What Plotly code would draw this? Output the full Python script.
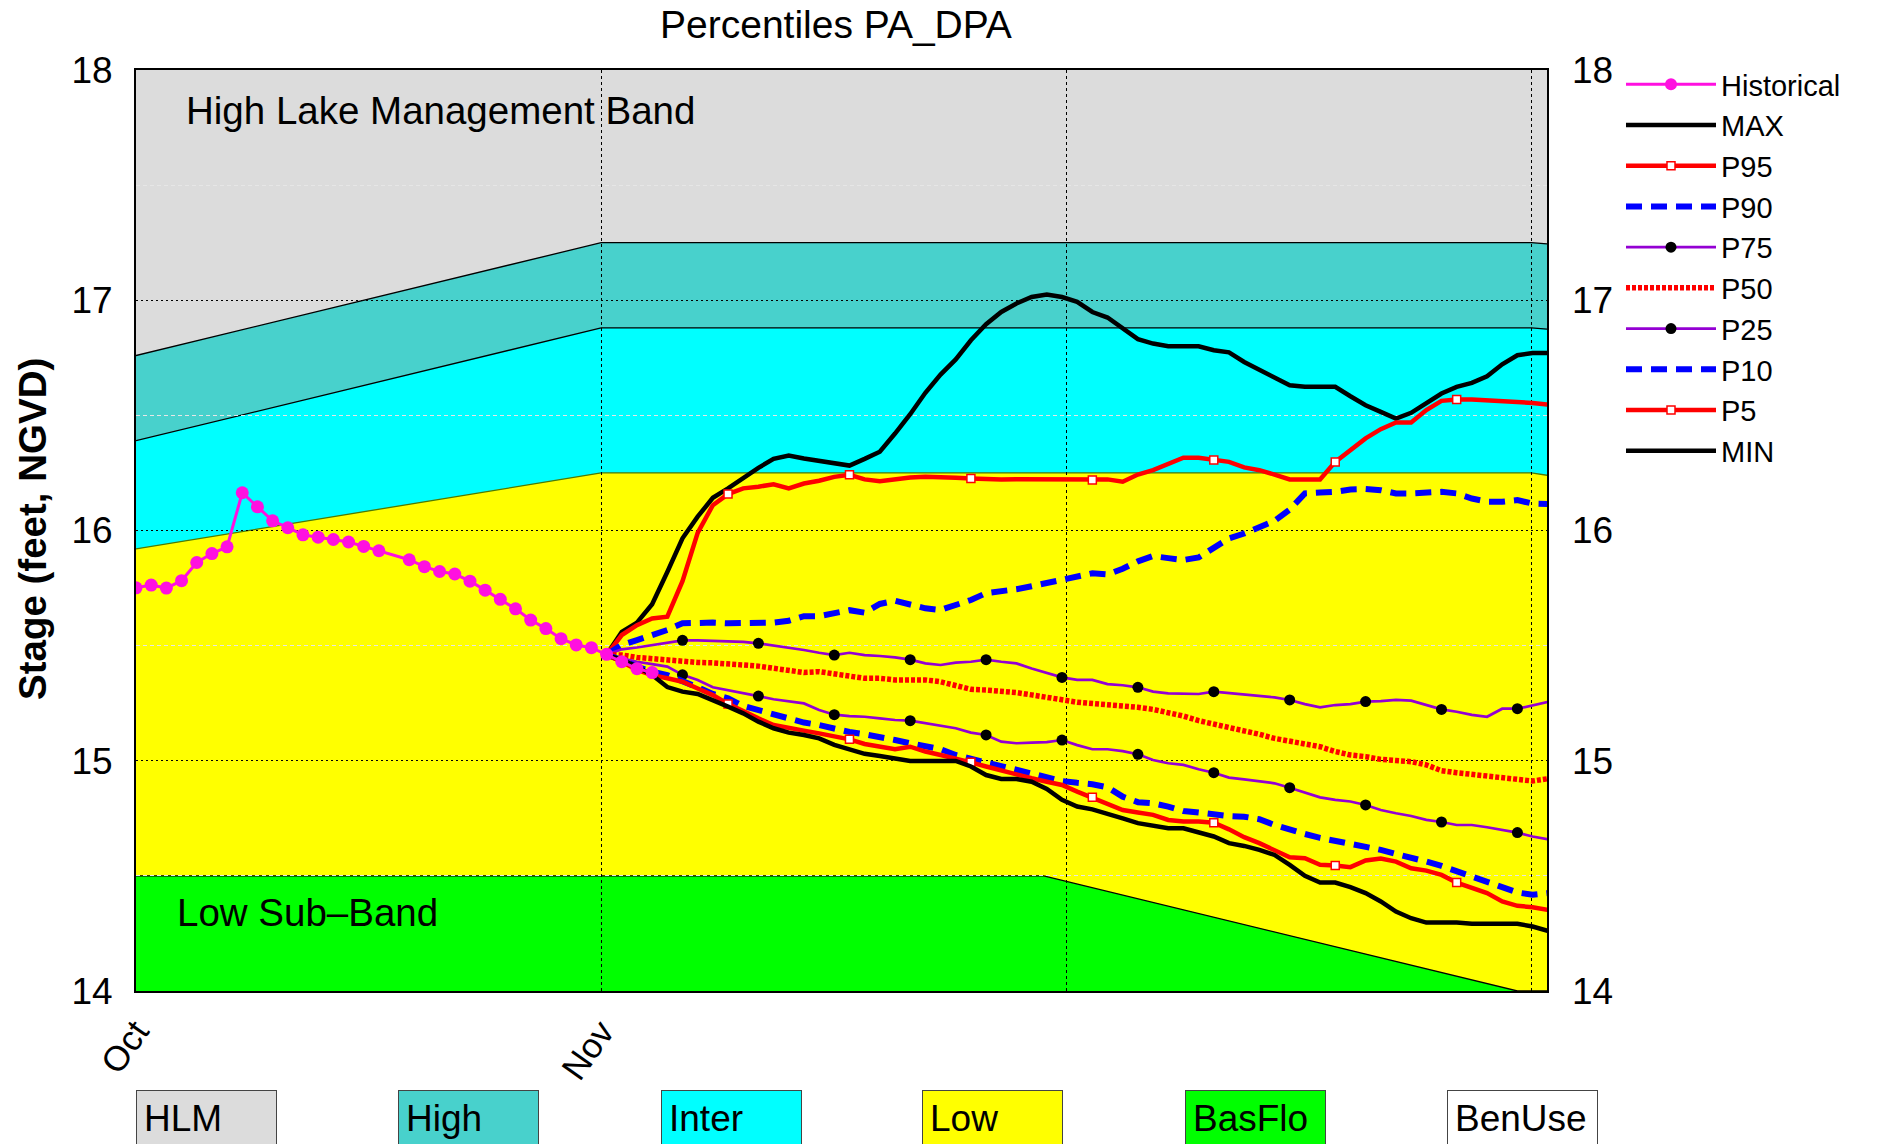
import plotly.graph_objects as go

# ---------------- data ----------------
TITLE = "Percentiles PA_DPA"
Y_TITLE = "Stage (feet, NGVD)"

# x axis: days since Oct 1; grid lines at month marks
MONTH_TICKS = [0, 30.64, 61.28, 91.92]
MONTH_LABELS = ["Oct", "Nov", "", ""]
X_MAX = 92.95
Y_TICKS = [14, 15, 16, 17, 18]
Y_MINOR = [14.5, 15.5, 16.5, 17.5]

# management bands (top boundaries)
BAND_DAYS = [0, 30.64, 91.92, 92.95]
HIGH_TOP = [16.76, 17.25, 17.25, 17.245]
INTER_TOP = [16.39, 16.88, 16.88, 16.875]
LOW_TOP = [15.92, 16.25, 16.25, 16.24]
BASFLO_DAYS = [0, 59.8, 91.0, 92.95]
BASFLO_TOP = [14.5, 14.5, 14.0, 14.0]

HIST_DAYS = [0, 1, 2, 3, 4, 5, 6, 7, 8, 9, 10, 11, 12, 13, 14, 15, 16,
             18, 19, 20, 21, 22, 23, 24, 25, 26, 27, 28, 29, 30, 31, 32, 33, 34]
HISTORICAL = [15.751, 15.763, 15.750, 15.782, 15.861, 15.900, 15.929, 16.164, 16.103,
              16.042, 16.012, 15.981, 15.971, 15.961, 15.950, 15.931, 15.912,
              15.873, 15.843, 15.822, 15.811, 15.780, 15.741, 15.701, 15.660, 15.611,
              15.574, 15.530, 15.503, 15.491, 15.462, 15.430, 15.400, 15.383]

PCT_DAYS = list(range(31, 94))

MAX = [15.46, 15.56, 15.60, 15.68, 15.82, 15.966, 16.060, 16.142, 16.183, 16.230,
       16.272, 16.311, 16.326, 16.313, 16.303, 16.294, 16.282, 16.311, 16.342, 16.421,
       16.505, 16.598, 16.677, 16.743, 16.826, 16.896, 16.949, 16.986, 17.014, 17.025,
       17.014, 16.993, 16.949, 16.925, 16.877, 16.831, 16.812, 16.800, 16.800, 16.800,
       16.783, 16.774, 16.732, 16.699, 16.663, 16.631, 16.624, 16.624, 16.624, 16.583,
       16.544, 16.515, 16.486, 16.511, 16.552, 16.595, 16.624, 16.641, 16.670, 16.722,
       16.761, 16.771, 16.771]
P95 = [15.46, 15.546, 15.589, 15.618, 15.626, 15.78, 15.990, 16.110, 16.158, 16.183,
       16.190, 16.201, 16.183, 16.204, 16.216, 16.233, 16.242, 16.222, 16.214, 16.222,
       16.230, 16.233, 16.229, 16.229, 16.226, 16.222, 16.222, 16.223, 16.223, 16.222,
       16.219, 16.219, 16.219, 16.222, 16.212, 16.243, 16.262, 16.288, 16.316, 16.316,
       16.306, 16.298, 16.274, 16.262, 16.243, 16.222, 16.222, 16.222, 16.298, 16.349,
       16.400, 16.440, 16.469, 16.469, 16.523, 16.563, 16.569, 16.569, 16.566, 16.559,
       16.556, 16.554, 16.547]
P90 = [15.46, 15.503, 15.524, 15.546, 15.568, 15.597, 15.600, 15.600, 15.597, 15.597,
       15.597, 15.600, 15.608, 15.628, 15.628, 15.640, 15.654, 15.643, 15.681, 15.695,
       15.681, 15.662, 15.655, 15.676, 15.698, 15.728, 15.734, 15.745, 15.758, 15.772,
       15.792, 15.802, 15.814, 15.809, 15.834, 15.866, 15.889, 15.880, 15.872, 15.883,
       15.927, 15.966, 15.987, 16.012, 16.042, 16.091, 16.161, 16.165, 16.168, 16.178,
       16.180, 16.175, 16.161, 16.161, 16.167, 16.168, 16.161, 16.139, 16.125, 16.125,
       16.132, 16.117, 16.115]
P75 = [15.46, 15.484, 15.492, 15.503, 15.513, 15.523, 15.523, 15.521, 15.518, 15.516,
       15.510, 15.501, 15.492, 15.481, 15.469, 15.459, 15.469, 15.459, 15.455, 15.449,
       15.439, 15.423, 15.416, 15.426, 15.430, 15.439, 15.430, 15.423, 15.401, 15.382,
       15.362, 15.351, 15.351, 15.333, 15.328, 15.319, 15.300, 15.293, 15.290, 15.290,
       15.300, 15.293, 15.288, 15.281, 15.275, 15.264, 15.246, 15.232, 15.242, 15.246,
       15.257, 15.259, 15.264, 15.261, 15.242, 15.223, 15.213, 15.199, 15.191, 15.226,
       15.226, 15.241, 15.255]
P50 = [15.46, 15.459, 15.449, 15.443, 15.437, 15.430, 15.427, 15.425, 15.423, 15.416,
       15.411, 15.401, 15.391, 15.383, 15.387, 15.377, 15.368, 15.358, 15.358, 15.351,
       15.351, 15.351, 15.343, 15.325, 15.310, 15.307, 15.304, 15.296, 15.286, 15.278,
       15.265, 15.254, 15.249, 15.245, 15.241, 15.232, 15.223, 15.210, 15.194, 15.174,
       15.160, 15.145, 15.134, 15.115, 15.097, 15.083, 15.073, 15.061, 15.040, 15.025,
       15.018, 15.006, 15.001, 14.996, 14.982, 14.957, 14.948, 14.941, 14.931, 14.922,
       14.917, 14.912, 14.922]
P25 = [15.46, 15.445, 15.430, 15.420, 15.409, 15.373, 15.351, 15.319, 15.307, 15.296,
       15.281, 15.267, 15.257, 15.249, 15.220, 15.200, 15.194, 15.191, 15.184, 15.177,
       15.174, 15.163, 15.151, 15.141, 15.122, 15.112, 15.083, 15.076, 15.079, 15.081,
       15.090, 15.068, 15.050, 15.050, 15.042, 15.028, 15.003, 14.989, 14.982, 14.963,
       14.948, 14.927, 14.919, 14.909, 14.902, 14.883, 14.862, 14.841, 14.830, 14.823,
       14.808, 14.786, 14.772, 14.760, 14.743, 14.734, 14.721, 14.721, 14.711, 14.700,
       14.688, 14.671, 14.659]
P10 = [15.46, 15.438, 15.409, 15.387, 15.372, 15.348, 15.319, 15.290, 15.271, 15.238,
       15.220, 15.202, 15.181, 15.166, 15.155, 15.138, 15.125, 15.115, 15.105, 15.090,
       15.076, 15.064, 15.050, 15.025, 15.006, 14.992, 14.977, 14.960, 14.943, 14.926,
       14.912, 14.904, 14.898, 14.885, 14.844, 14.820, 14.815, 14.801, 14.782, 14.775,
       14.765, 14.760, 14.757, 14.746, 14.721, 14.700, 14.682, 14.665, 14.653, 14.637,
       14.624, 14.613, 14.595, 14.581, 14.562, 14.543, 14.519, 14.494, 14.475, 14.449,
       14.428, 14.418, 14.425]
P5 = [15.46, 15.430, 15.394, 15.372, 15.358, 15.343, 15.314, 15.285, 15.247, 15.213,
      15.184, 15.155, 15.141, 15.131, 15.119, 15.105, 15.093, 15.073, 15.061, 15.050,
      15.061, 15.040, 15.025, 15.011, 14.993, 14.975, 14.957, 14.938, 14.924, 14.909,
      14.895, 14.866, 14.841, 14.812, 14.786, 14.775, 14.765, 14.743, 14.736, 14.736,
      14.731, 14.702, 14.668, 14.642, 14.613, 14.581, 14.577, 14.548, 14.545, 14.538,
      14.567, 14.575, 14.562, 14.533, 14.523, 14.504, 14.471, 14.446, 14.425, 14.389,
      14.370, 14.364, 14.352]
MIN = [15.46, 15.438, 15.409, 15.372, 15.32, 15.300, 15.290, 15.264, 15.235, 15.206,
       15.170, 15.141, 15.122, 15.112, 15.097, 15.069, 15.047, 15.030, 15.021, 15.011,
       14.999, 14.999, 14.999, 14.999, 14.975, 14.938, 14.921, 14.921, 14.909, 14.878,
       14.830, 14.801, 14.789, 14.772, 14.750, 14.729, 14.720, 14.707, 14.707, 14.690,
       14.671, 14.642, 14.630, 14.613, 14.591, 14.548, 14.500, 14.471, 14.471, 14.451,
       14.425, 14.389, 14.345, 14.316, 14.297, 14.297, 14.297, 14.292, 14.292, 14.292,
       14.292, 14.280, 14.261]

SQUARE_MARKER_DAYS = [39, 47, 55, 63, 71, 79, 87]
CIRCLE_MARKER_DAYS = [36, 41, 46, 51, 56, 61, 66, 71, 76, 81, 86, 91]

BAND_LABELS = ["HLM", "High", "Inter", "Low", "BasFlo", "BenUse"]

# ---------------- styles ----------------
FONT = "Liberation Sans, Arial, Helvetica, sans-serif"
C_HLM = "#DCDCDC"
C_HIGH = "#48D1CC"
C_INTER = "#00FFFF"
C_LOW = "#FFFF00"
C_BAS = "#00FF00"
C_BEN = "#FFFFFF"
BAND_COLORS = [C_HLM, C_HIGH, C_INTER, C_LOW, C_BAS, C_BEN]
MAGENTA = "#FF10E0"
PURPLE = "#9400D3"
BLUE = "#0000FF"
RED = "#FF0000"

# page body margin is removed, so the figure fills the window
OFF = 0
W, H = 1881 - OFF, 1144 - OFF
ML, MR, MT, MB = 136, 334, 70, 153
PW = W - ML - MR
PH = H - MT - MB


def px_x(X):  # page pixel -> paper x
    return (X - OFF - ML) / PW


def px_y(Y):  # page pixel -> paper y
    return (H - MB - (Y - OFF)) / PH


def poly_path(days, tops, bottom):
    pts = [f"L{d},{t}" for d, t in zip(days, tops)]
    return f"M{days[0]},{bottom} " + " ".join(pts) + f" L{days[-1]},{bottom} Z"


def line_path(days, tops):
    return "M" + " L".join(f"{d},{t}" for d, t in zip(days, tops))


def subset(days, vals, keep):
    xs, ys = [], []
    for d, v in zip(days, vals):
        if d in keep:
            xs.append(d)
            ys.append(v)
    return xs, ys


fig = go.Figure()

# band shapes (below grid lines)
shapes = []
y0 = Y_TICKS[0]
for days, tops, col in [(BAND_DAYS, HIGH_TOP, C_HIGH), (BAND_DAYS, INTER_TOP, C_INTER),
                        (BAND_DAYS, LOW_TOP, C_LOW), (BASFLO_DAYS, BASFLO_TOP, C_BAS)]:
    shapes.append(dict(type="path", path=poly_path(days, tops, y0), xref="x", yref="y",
                       fillcolor=col, line=dict(width=0), layer="below"))
for days, tops, col in [(BAND_DAYS, HIGH_TOP, "#000000"), (BAND_DAYS, INTER_TOP, "#000000"),
                        (BAND_DAYS, LOW_TOP, "#4F7A00"), (BASFLO_DAYS, BASFLO_TOP, "#000000")]:
    shapes.append(dict(type="path", path=line_path(days, tops), xref="x", yref="y",
                       line=dict(color=col, width=1.3), layer="below"))

DASH_BLUE = "16px,9px"
series = [
    ("MAX", MAX, dict(color="black", width=4.5), None),
    ("P95", P95, dict(color=RED, width=4.5), "square"),
    ("P90", P90, dict(color=BLUE, width=6, dash=DASH_BLUE), None),
    ("P75", P75, dict(color=PURPLE, width=2.7), "circle"),
    ("P50", P50, dict(color=RED, width=5.5, dash="4px,2px"), None),
    ("P25", P25, dict(color=PURPLE, width=2.7), "circle"),
    ("P10", P10, dict(color=BLUE, width=6, dash=DASH_BLUE), None),
    ("P5", P5, dict(color=RED, width=4.5), "square"),
    ("MIN", MIN, dict(color="black", width=4.5), None),
]
SQ_MARKER = dict(symbol="square", size=8, color="white", line=dict(color=RED, width=1.5))
CI_MARKER = dict(symbol="circle", size=11, color="black", line=dict(width=0))

for name, vals, ln, mk in series:
    fig.add_trace(go.Scatter(x=PCT_DAYS, y=vals, mode="lines", line=ln, showlegend=False,
                             hoverinfo="skip", name=name))
    if mk == "square":
        xs, ys = subset(PCT_DAYS, vals, SQUARE_MARKER_DAYS)
        fig.add_trace(go.Scatter(x=xs, y=ys, mode="markers", marker=SQ_MARKER, showlegend=False))
    elif mk == "circle":
        xs, ys = subset(PCT_DAYS, vals, CIRCLE_MARKER_DAYS)
        fig.add_trace(go.Scatter(x=xs, y=ys, mode="markers", marker=CI_MARKER, showlegend=False))

# historical on top (overlay axis)
fig.add_trace(go.Scatter(x=HIST_DAYS, y=HISTORICAL, mode="lines+markers", yaxis="y2",
                         line=dict(color=MAGENTA, width=3),
                         marker=dict(color=MAGENTA, size=13), showlegend=False))

# legend entries
fig.add_trace(go.Scatter(x=[None], y=[None], mode="lines+markers", name="Historical",
                         line=dict(color=MAGENTA, width=3), marker=dict(color=MAGENTA, size=12)))
for name, vals, ln, mk in series:
    if mk == "square":
        fig.add_trace(go.Scatter(x=[None], y=[None], mode="lines+markers", name=name,
                                 line=ln, marker=SQ_MARKER))
    elif mk == "circle":
        fig.add_trace(go.Scatter(x=[None], y=[None], mode="lines+markers", name=name,
                                 line=ln, marker=CI_MARKER))
    else:
        fig.add_trace(go.Scatter(x=[None], y=[None], mode="lines", name=name, line=ln))

annotations = [
    dict(text=TITLE, xref="paper", yref="paper", x=px_x(836), y=px_y(25), xanchor="center",
         yanchor="middle", showarrow=False, font=dict(size=39, color="black", family=FONT)),
    dict(text="<b>" + Y_TITLE + "</b>", xref="paper", yref="paper", x=px_x(32), y=px_y(529),
         textangle=-90, xanchor="center", yanchor="middle", showarrow=False,
         font=dict(size=38.5, color="black", family=FONT)),
    dict(text="High Lake Management Band", xref="paper", yref="paper", x=px_x(184),
         y=px_y(110), xanchor="left", yanchor="middle", showarrow=False,
         font=dict(size=38.5, color="black", family=FONT)),
    dict(text="Low Sub\u2013Band", xref="paper", yref="paper", x=px_x(175),
         y=px_y(912), xanchor="left", yanchor="middle", showarrow=False,
         font=dict(size=38.5, color="black", family=FONT)),
]
BOX_LEFT = [136, 398, 661, 922, 1185, 1447]
BOX_W = [141, 141, 141, 141, 141, 151]
BOX_PAD = 7
for lab, col, x0, bw in zip(BAND_LABELS, BAND_COLORS, BOX_LEFT, BOX_W):
    annotations.append(dict(text=lab, xref="paper", yref="paper", x=px_x(x0),
                            y=px_y(1090), xanchor="left", yanchor="top", showarrow=False,
                            align="left", valign="top", width=bw - 2 * BOX_PAD - 2, height=80,
                            borderpad=BOX_PAD, bgcolor=col, bordercolor="#444444",
                            borderwidth=1, font=dict(size=37, color="black", family=FONT)))

fig.update_layout(
    width=W, height=H, autosize=False,
    margin=dict(l=ML, r=MR, t=MT, b=MB, pad=0),
    paper_bgcolor="white", plot_bgcolor=C_HLM,
    font=dict(family=FONT, color="black"),
    shapes=shapes, annotations=annotations,
    xaxis=dict(range=[0, X_MAX], tickmode="array", tickvals=MONTH_TICKS, ticktext=MONTH_LABELS,
               tickangle=-55, showgrid=True, gridcolor="black", gridwidth=1, griddash="3px,3px",
               mirror=True, ticklabelstandoff=4, showline=True, linecolor="black",
               linewidth=2, zeroline=False, ticks="",
               tickfont=dict(size=35, color="black", family=FONT)),
    yaxis=dict(range=[Y_TICKS[0], Y_TICKS[-1]], tickmode="array", tickvals=Y_TICKS,
               showgrid=True, gridcolor="black", gridwidth=1, griddash="2px,3px", mirror=True,
               minor=dict(tickmode="array", tickvals=Y_MINOR, showgrid=True,
                          gridcolor="#E6E6E6", gridwidth=1, griddash="4px,3px", ticks=""),
               ticklabelstandoff=14, showline=True, linecolor="black", linewidth=2,
               zeroline=False, ticks="", tickfont=dict(size=37, color="black", family=FONT)),
    yaxis2=dict(range=[Y_TICKS[0], Y_TICKS[-1]], tickmode="array", tickvals=Y_TICKS,
                overlaying="y", side="right", showgrid=False, zeroline=False, showline=False,
                ticks="", ticklabelstandoff=24,
                tickfont=dict(size=37, color="black", family=FONT)),
    legend=dict(x=px_x(1621), y=px_y(59), xanchor="left", yanchor="top",
                font=dict(size=29, color="black", family=FONT), itemwidth=90,
                bgcolor="rgba(0,0,0,0)", traceorder="normal", tracegroupgap=0),
    showlegend=True,
)

fig.write_html("out.html", config={"displayModeBar": False},
               post_script="document.body.style.margin='0px';"
                           "document.body.style.overflow='hidden';")
